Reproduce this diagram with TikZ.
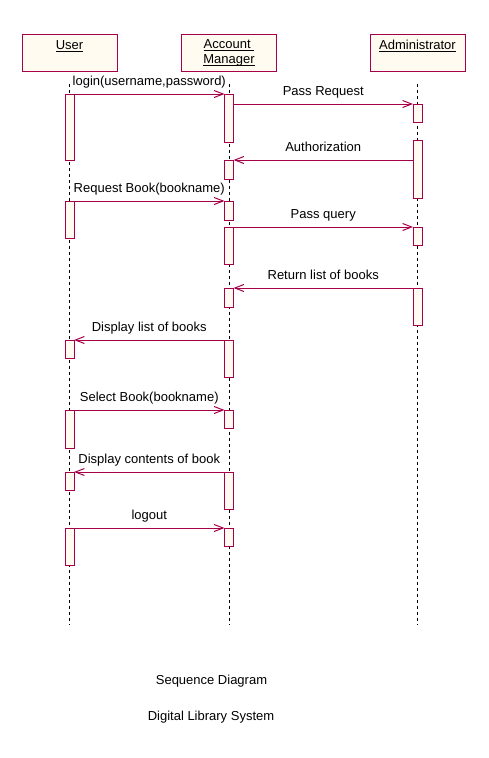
\documentclass[tikz,border=0pt]{standalone}
\usepackage{fontspec}
\setmainfont{Liberation Sans}
\usetikzlibrary{arrows.meta}
\definecolor{umlred}{RGB}{166,0,72}
\definecolor{umlcream}{RGB}{255,251,240}
\newcommand{\objname}[1]{\underline{\raisebox{0pt}[\height][0pt]{#1}}}

\begin{document}
\begin{tikzpicture}[x=1pt,y=-1pt,
  font=\fontsize{13}{15}\selectfont,
  head/.style={draw=umlred,fill=umlcream,line width=1pt,minimum width=95pt,minimum height=37pt,align=center,inner sep=0pt},
  act/.style={draw=umlred,fill=umlcream,line width=1pt,minimum width=9pt,inner sep=0pt,outer sep=0pt,anchor=north},
  life/.style={line width=1pt,dash pattern=on 3pt off 3pt},
  msg/.style={draw=umlred,line width=1pt,-{Straight Barb[length=9pt,width=7pt]}},
  lbl/.style={midway,anchor=base,yshift=9pt,inner sep=0pt,text=black}]
\useasboundingbox (0,0) rectangle (488,758);

% objects
\node[head] (user) at (69.5,52.5) {\objname{User}\\\mbox{}};
\node[head] (acct) at (229,52.5) {\objname{Account~}\\\objname{Manager}};
\node[head] (admin) at (417.5,52.5) {\objname{Administrator}\\\mbox{}};

% lifelines
\coordinate (user-top) at (69.5,84);
\coordinate (user-bot) at (69.5,625);
\coordinate (acct-top) at (229,84);
\coordinate (acct-bot) at (229,625);
\coordinate (admin-top) at (417.5,84);
\coordinate (admin-bot) at (417.5,625);
\draw[life] (user-top) -- (user-bot);
\draw[life] (acct-top) -- (acct-bot);
\draw[life] (admin-top) -- (admin-bot);

% activations
\foreach \name/\x/\top/\bot in {u1/69.5/94/160, u2/69.5/201/238, u3/69.5/340/358,
    u4/69.5/410/448, u5/69.5/472/490, u6/69.5/528/565,
    a1/229/94/142, a2/229/160/179, a3/229/201/220, a4/229/227/264, a5/229/288/307,
    a6/229/340/377, a7/229/410/428, a8/229/472/509, a9/229/528/546,
    d1/417.5/104/122, d2/417.5/140/198, d3/417.5/227/245, d4/417.5/288/325}
  \node[act,minimum height={(\bot-\top)*1pt}] (\name) at (\x,\top) {};

% messages
\draw[msg] (u1.north east) -- (a1.north west) node[lbl] {login(username,password)};
\draw[msg] (a1.east |- d1.north) -- (d1.north west) node[lbl] {Pass Request};
\draw[msg] (d2.west |- a2.north) -- (a2.north east) node[lbl] {Authorization};
\draw[msg] (u2.north east) -- (a3.north west) node[lbl] {Request Book(bookname)};
\draw[msg] (a4.north east) -- (d3.north west) node[lbl] {Pass query};
\draw[msg] (d4.north west) -- (a5.north east) node[lbl] {Return list of books};
\draw[msg] (a6.north west) -- (u3.north east) node[lbl] {Display list of books};
\draw[msg] (u4.north east) -- (a7.north west) node[lbl] {Select Book(bookname)};
\draw[msg] (a8.north west) -- (u5.north east) node[lbl] {Display contents of book};
\draw[msg] (u6.north east) -- (a9.north west) node[lbl] {logout};

% titles
\node[anchor=base] (title) at (211.5,684) {Sequence Diagram};
\node[anchor=base] (system) at (211,720) {Digital Library System};
\end{tikzpicture}
\end{document}
